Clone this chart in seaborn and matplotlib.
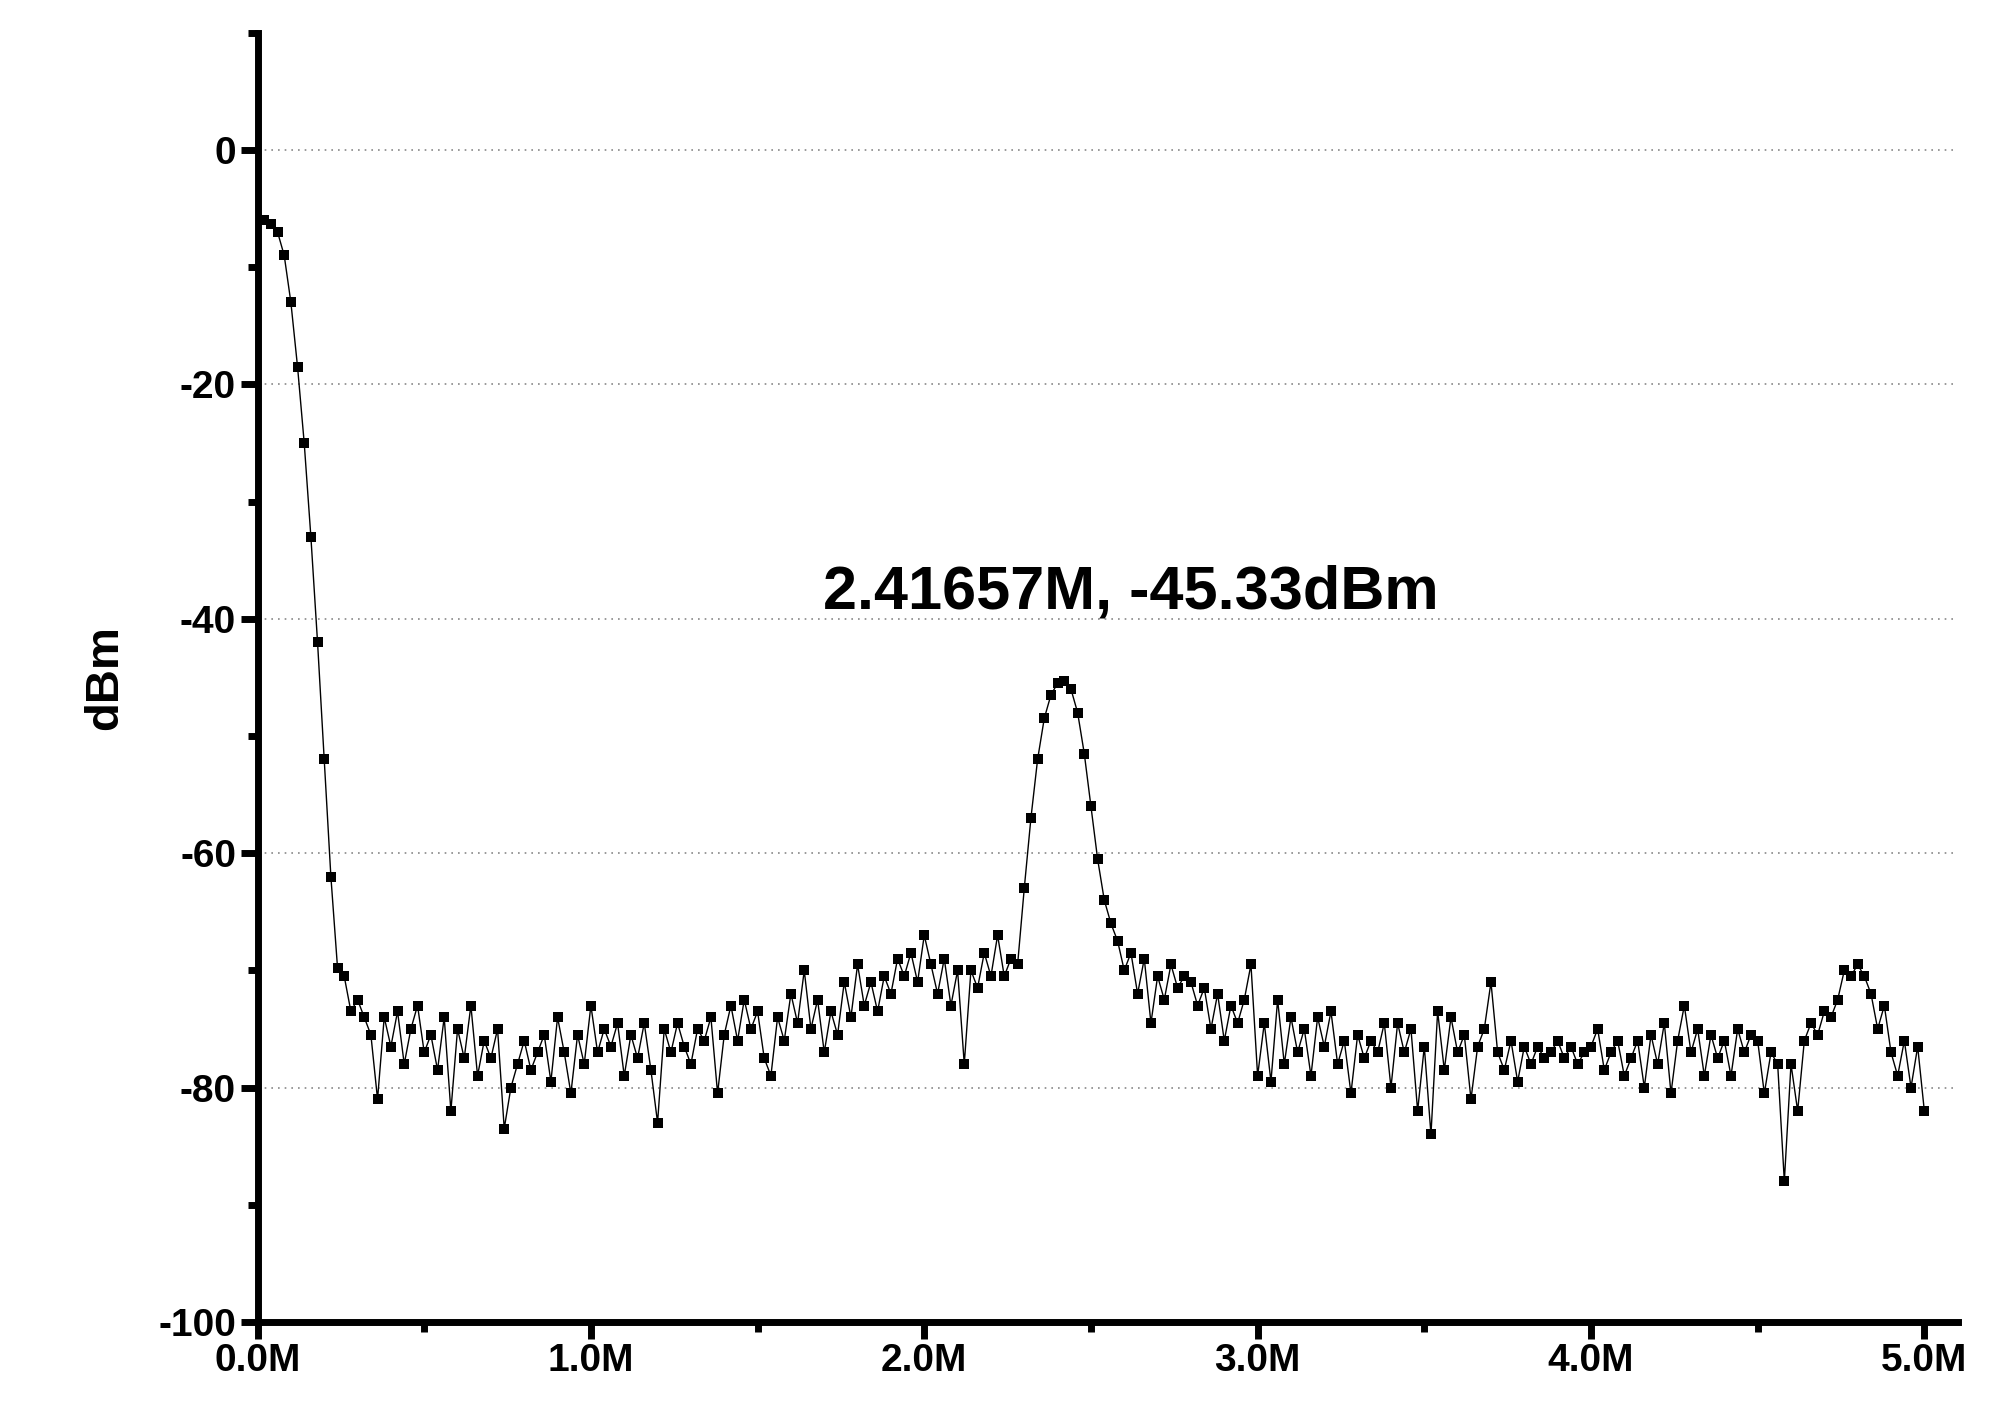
import numpy as np
import pandas as pd
import matplotlib
matplotlib.use('Agg')
import matplotlib.pyplot as plt
import seaborn as sns
from matplotlib.ticker import MultipleLocator, FuncFormatter

# spectrum, one value every 0.02M from 0 to 5.0M
dbm = [
    -6.0, -6.0, -6.3, -7.0, -9.0, -13.0, -18.5, -25.0, -33.0, -42.0,
    -52.0, -62.0, -69.8, -70.5, -73.5, -72.5, -74.0, -75.5, -81.0, -74.0,
    -76.5, -73.5, -78.0, -75.0, -73.0, -77.0, -75.5, -78.5, -74.0, -82.0,
    -75.0, -77.5, -73.0, -79.0, -76.0, -77.5, -75.0, -83.5, -80.0, -78.0,
    -76.0, -78.5, -77.0, -75.5, -79.5, -74.0, -77.0, -80.5, -75.5, -78.0,
    -73.0, -77.0, -75.0, -76.5, -74.5, -79.0, -75.5, -77.5, -74.5, -78.5,
    -83.0, -75.0, -77.0, -74.5, -76.5, -78.0, -75.0, -76.0, -74.0, -80.5,
    -75.5, -73.0, -76.0, -72.5, -75.0, -73.5, -77.5, -79.0, -74.0, -76.0,
    -72.0, -74.5, -70.0, -75.0, -72.5, -77.0, -73.5, -75.5, -71.0, -74.0,
    -69.5, -73.0, -71.0, -73.5, -70.5, -72.0, -69.0, -70.5, -68.5, -71.0,
    -67.0, -69.5, -72.0, -69.0, -73.0, -70.0, -78.0, -70.0, -71.5, -68.5,
    -70.5, -67.0, -70.5, -69.0, -69.5, -63.0, -57.0, -52.0, -48.5, -46.5,
    -45.5, -45.33, -46.0, -48.0, -51.5, -56.0, -60.5, -64.0, -66.0, -67.5,
    -70.0, -68.5, -72.0, -69.0, -74.5, -70.5, -72.5, -69.5, -71.5, -70.5,
    -71.0, -73.0, -71.5, -75.0, -72.0, -76.0, -73.0, -74.5, -72.5, -69.5,
    -79.0, -74.5, -79.5, -72.5, -78.0, -74.0, -77.0, -75.0, -79.0, -74.0,
    -76.5, -73.5, -78.0, -76.0, -80.5, -75.5, -77.5, -76.0, -77.0, -74.5,
    -80.0, -74.5, -77.0, -75.0, -82.0, -76.5, -84.0, -73.5, -78.5, -74.0,
    -77.0, -75.5, -81.0, -76.5, -75.0, -71.0, -77.0, -78.5, -76.0, -79.5,
    -76.5, -78.0, -76.5, -77.5, -77.0, -76.0, -77.5, -76.5, -78.0, -77.0,
    -76.5, -75.0, -78.5, -77.0, -76.0, -79.0, -77.5, -76.0, -80.0, -75.5,
    -78.0, -74.5, -80.5, -76.0, -73.0, -77.0, -75.0, -79.0, -75.5, -77.5,
    -76.0, -79.0, -75.0, -77.0, -75.5, -76.0, -80.5, -77.0, -78.0, -88.0,
    -78.0, -82.0, -76.0, -74.5, -75.5, -73.5, -74.0, -72.5, -70.0, -70.5,
    -69.5, -70.5, -72.0, -75.0, -73.0, -77.0, -79.0, -76.0, -80.0, -76.5,
    -82.0,
]
freq = np.round(np.arange(len(dbm)) * 0.02, 2)
df = pd.DataFrame({'freq': freq, 'dbm': dbm})

sns.set_style('white')
plt.rcParams['font.family'] = ['Liberation Sans', 'DejaVu Sans']
plt.rcParams['text.color'] = 'black'
plt.rcParams['axes.labelcolor'] = 'black'
plt.rcParams['xtick.color'] = 'black'
plt.rcParams['ytick.color'] = 'black'

fig = plt.figure(figsize=(20.12, 14.23), dpi=100)
ax = fig.add_axes([0.128, 0.071, 0.845, 0.906])

sns.lineplot(data=df, x='freq', y='dbm', ax=ax, color='black', linewidth=1.0,
             marker='s', markersize=7, markeredgewidth=0)

ax.set_xlim(0, 5.1)
ax.set_ylim(-100, 10)
for gy in [0, -20, -40, -60, -80]:
    ax.axhline(gy, color='#888888', linestyle=(0, (1, 3)), linewidth=1.2, zorder=0)

ax.xaxis.set_major_locator(MultipleLocator(1))
ax.xaxis.set_minor_locator(MultipleLocator(0.5))
ax.yaxis.set_major_locator(MultipleLocator(20))
ax.yaxis.set_minor_locator(MultipleLocator(10))
ax.xaxis.set_major_formatter(FuncFormatter(lambda v, p: f'{v:.1f}M'))
ax.yaxis.set_major_formatter(FuncFormatter(lambda v, p: f'{v:.0f}'))
ax.tick_params(which='major', direction='out', length=12, width=5,
               labelsize=28, bottom=True, left=True, colors='black')
ax.tick_params(which='minor', direction='out', length=7, width=5,
               bottom=True, left=True, colors='black')
for lab in ax.get_xticklabels() + ax.get_yticklabels():
    lab.set_fontweight('bold')

for side in ['top', 'right']:
    ax.spines[side].set_visible(False)
for side in ['left', 'bottom']:
    ax.spines[side].set_linewidth(5)
    ax.spines[side].set_color('black')

ax.set_xlabel('')
ax.set_ylabel('dBm', fontsize=34, fontweight='bold', labelpad=22, color='black')
ax.text(2.62, -37.8, '2.41657M, -45.33dBm', fontsize=44, fontweight='bold',
        ha='center', va='center', color='black')

plt.savefig('out.png', dpi=100)
